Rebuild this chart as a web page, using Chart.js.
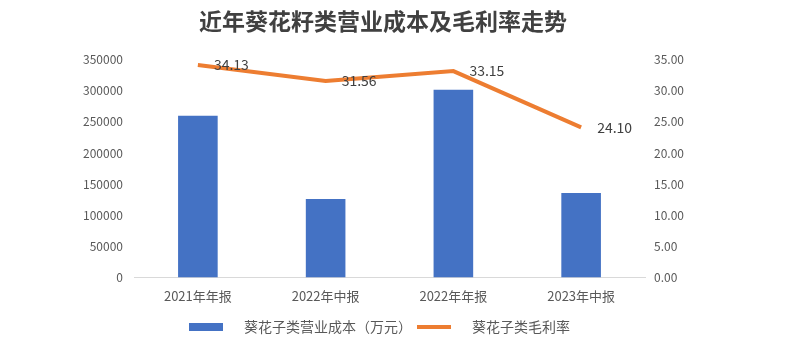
<!DOCTYPE html>
<html>
<head>
<meta charset="utf-8">
<script src="https://cdn.jsdelivr.net/npm/chart.js@4"></script>
<style>
  body { margin: 0; background: #fff; }
  #wrap { width: 802px; height: 353px; }
</style>
</head>
<body>
<div id="wrap"><canvas id="myChart"></canvas></div>
<script>
const categories = ['2021年年报', '2022年中报', '2022年年报', '2023年中报'];
const costValues = [259700, 125800, 301600, 135500];   // 葵花子类营业成本（万元）
const marginValues = [34.13, 31.56, 33.15, 24.10];     // 葵花子类毛利率

const FONT = '"Noto Sans CJK SC", "Noto Sans", sans-serif';

// labels on the right of each line point
const pointLabels = {
    id: 'pointLabels',
    afterDatasetsDraw(chart) {
        const meta = chart.getDatasetMeta(1);
        const ctx = chart.ctx;
        ctx.save();
        ctx.font = '14px ' + FONT;
        ctx.fillStyle = '#404040';
        ctx.textAlign = 'left';
        ctx.textBaseline = 'middle';
        meta.data.forEach((pt, i) => {
            ctx.fillText(marginValues[i].toFixed(2), pt.x + 16, pt.y);
        });
        ctx.restore();
    }
};

const config = {
    data: {
        labels: categories,
        datasets: [{
            type: 'bar',
            label: '葵花子类营业成本（万元）',
            data: costValues,
            backgroundColor: '#4472C4',
            borderWidth: 0,
            barPercentage: 0.62,
            categoryPercentage: 0.5,
            pointStyle: 'rect',
            yAxisID: 'y',
            order: 2
        }, {
            type: 'line',
            label: '葵花子类毛利率',
            data: marginValues,
            borderColor: '#ED7D31',
            backgroundColor: '#ED7D31',
            borderWidth: 4,
            pointRadius: 0,
            pointStyle: 'line',
            tension: 0,
            yAxisID: 'y1',
            order: 1
        }]
    },
    options: {
        responsive: true,
        maintainAspectRatio: false,
        animation: false,
        layout: { padding: { left: 0, right: 36, top: 0, bottom: 9 } },
        scales: {
            x: {
                grid: { display: false, drawTicks: false },
                border: { color: '#D9D9D9', width: 1 },
                ticks: { color: '#595959', padding: 11, font: { family: FONT, size: 13 } }
            },
            y: {
                position: 'left',
                min: 0, max: 350000,
                grid: { display: false, drawTicks: false },
                border: { display: false },
                ticks: {
                    stepSize: 50000, color: '#595959', padding: 11,
                    font: { family: FONT, size: 12 },
                    callback: v => String(v)
                },
                afterFit(scale) { scale.width = 134; }
            },
            y1: {
                position: 'right',
                min: 0, max: 35,
                grid: { display: false, drawTicks: false },
                border: { display: false },
                ticks: {
                    stepSize: 5, color: '#595959', padding: 9,
                    font: { family: FONT, size: 12 },
                    callback: v => v.toFixed(2)
                },
                afterFit(scale) { scale.width = 121; }
            }
        },
        plugins: {
            title: {
                display: true,
                text: '近年葵花籽类营业成本及毛利率走势',
                color: '#404040',
                font: { family: FONT, size: 23, weight: 'bold' },
                padding: { top: 7, bottom: 25 }
            },
            legend: {
                position: 'bottom',
                labels: {
                    usePointStyle: true,
                    pointStyleWidth: 34,
                    boxHeight: 8,
                    padding: 5,
                    color: '#595959',
                    font: { family: FONT, size: 14 },
                    sort: (a, b) => a.datasetIndex - b.datasetIndex,
                    generateLabels(chart) {
                        const items = Chart.defaults.plugins.legend.labels.generateLabels(chart);
                        items.forEach((it, i) => {
                            it.text = '\u2002\u2002' + it.text + (i === 0 ? '\u2002' : '');
                        });
                        return items;
                    }
                }
            },
            tooltip: { enabled: false }
        }
    },
    plugins: [pointLabels]
};

const myChart = new Chart(document.getElementById('myChart'), config);
</script>
</body>
</html>
